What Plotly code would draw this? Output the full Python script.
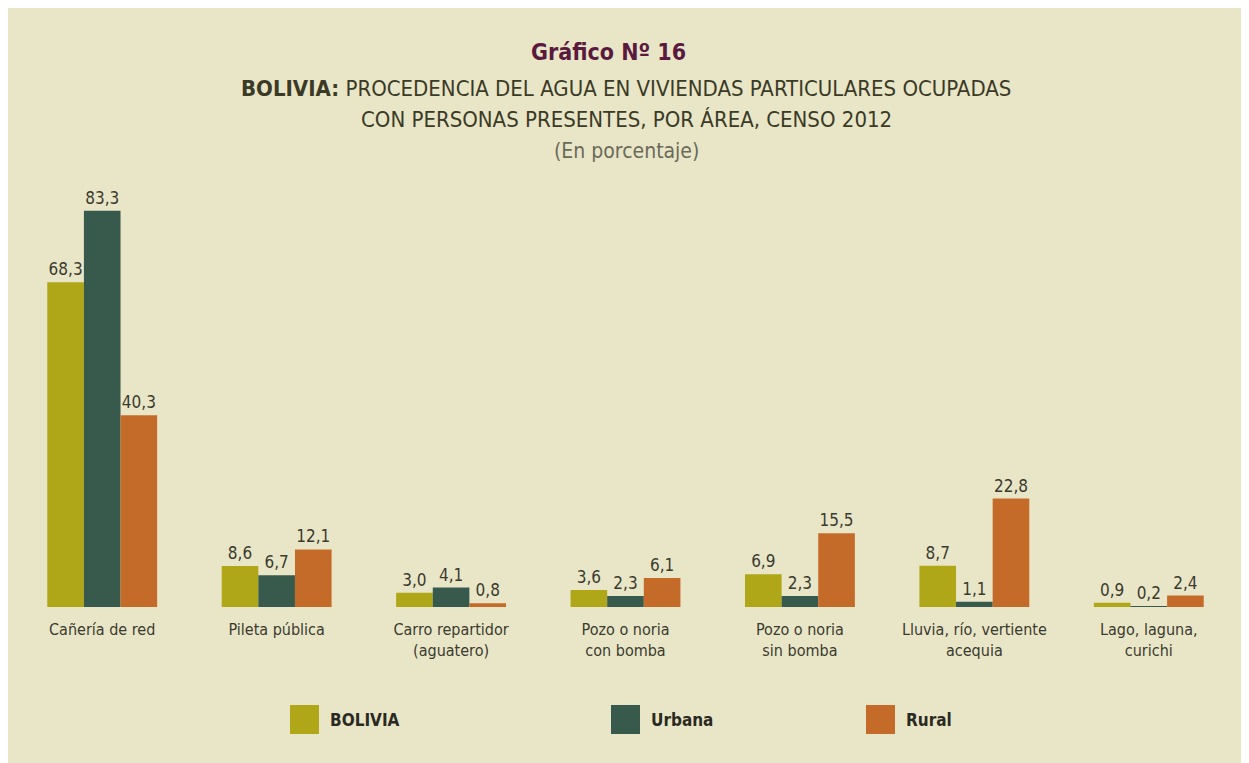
import plotly.graph_objects as go

# datos del gráfico (en porcentaje)
categorias = [
    "Cañería de red",
    "Pileta pública",
    "Carro repartidor<br>(aguatero)",
    "Pozo o noria<br>con bomba",
    "Pozo o noria<br>sin bomba",
    "Lluvia, río, vertiente<br>acequia",
    "Lago, laguna,<br>curichi",
]
bolivia = [68.3, 8.6, 3.0, 3.6, 6.9, 8.7, 0.9]
urbana = [83.3, 6.7, 4.1, 2.3, 2.3, 1.1, 0.2]
rural = [40.3, 12.1, 0.8, 6.1, 15.5, 22.8, 2.4]
series = ["BOLIVIA", "Urbana", "Rural"]

COLORES = ["#AFA718", "#385A4C", "#C56B29"]
FONDO = "#E9E6C8"
TEXTO = "#3A3A2E"
FUENTE = "DejaVu Sans Condensed, Liberation Sans Narrow, sans-serif"

# la página deja 8 px de margen: la figura ocupa 1241x755 desde (8, 8)
OFF = 8
W, H = 1249 - OFF, 763 - OFF
L, R, T, B = 15 - OFF, 13, 179 - OFF, 156  # márgenes en px
PW, PH = W - L - R, H - T - B


def px_x(x):
    # x en px de la imagen de referencia -> coordenada paper
    return (x - OFF - L) / PW


def px_y(y):
    return (H - B - (y - OFF)) / PH


fig = go.Figure()
for nombre, valores, color in zip(series, [bolivia, urbana, rural], COLORES):
    fig.add_trace(go.Bar(
        x=categorias, y=valores, name=nombre,
        marker=dict(color=color, line=dict(width=0)),
        texttemplate="%{y:.1f}", textposition="outside",
        textfont=dict(family=FUENTE, size=17, color=TEXTO),
        cliponaxis=False, showlegend=False,
    ))

shapes = []
annotations = [
    dict(text="<b>Gráfico Nº 16</b>", x=px_x(608), y=px_y(52),
         font=dict(size=23, color="#5A1A3E")),
    dict(text="<b>BOLIVIA:</b> PROCEDENCIA DEL AGUA EN VIVIENDAS PARTICULARES OCUPADAS",
         x=px_x(626), y=px_y(88), font=dict(size=22, color="#3A3A26")),
    dict(text="CON PERSONAS PRESENTES, POR ÁREA, CENSO 2012",
         x=px_x(626), y=px_y(119), font=dict(size=22, color="#3A3A26")),
    dict(text="(En porcentaje)", x=px_x(626), y=px_y(151),
         font=dict(size=21, color="#6A6A58")),
]

# leyenda manual con cuadros grandes
leyenda_x = [290, 611, 866]
for nombre, color, lx in zip(series, COLORES, leyenda_x):
    shapes.append(dict(type="rect", xref="paper", yref="paper",
                       x0=px_x(lx), x1=px_x(lx + 29), y0=px_y(734), y1=px_y(705),
                       fillcolor=color, line=dict(width=0)))
    annotations.append(dict(text="<b>%s</b>" % nombre, x=px_x(lx + 38), y=px_y(720),
                            xanchor="left", font=dict(size=17, color="#2A2A22")))

for a in annotations:
    a.setdefault("xanchor", "center")
    a.update(xref="paper", yref="paper", yanchor="middle", showarrow=False)
    a["font"].setdefault("family", FUENTE)

fig.update_layout(
    width=W, height=H, autosize=False,
    margin=dict(l=L, r=R, t=T, b=B),
    paper_bgcolor=FONDO, plot_bgcolor="rgba(0,0,0,0)",
    barmode="group", bargap=0.37, bargroupgap=0,
    separators=",.",
    font=dict(family=FUENTE, color=TEXTO),
    shapes=shapes, annotations=annotations,
)
fig.update_xaxes(showgrid=False, showline=False, zeroline=False, ticks="",
                 ticklabelstandoff=11,
                 tickfont=dict(family=FUENTE, size=16, color=TEXTO))
fig.update_yaxes(range=[0, 90], visible=False, showgrid=False, zeroline=False)

fig.write_html("out.html")
